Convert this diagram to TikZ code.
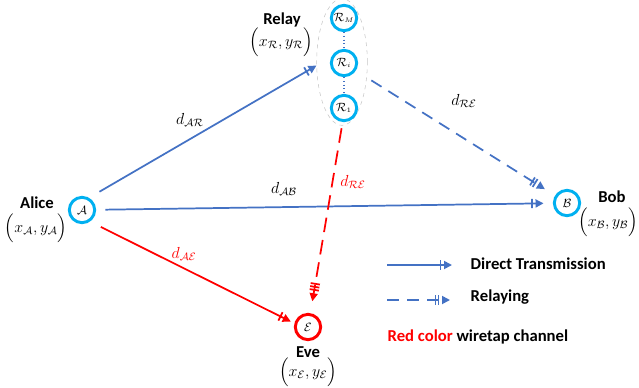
\documentclass[tikz,border=0pt]{standalone}
\usepackage{amsmath}
\usepackage[no-math]{fontspec}
\setmainfont{Carlito}
\usepackage{tikz}
\usetikzlibrary{arrows.meta,positioning,shapes.geometric}
\definecolor{linkblue}{HTML}{4472C4}
\definecolor{nodecyan}{HTML}{00B0F0}
\definecolor{tapred}{HTML}{FF0000}

\begin{document}
\begin{tikzpicture}[x=0.75pt, y=-0.75pt, font=\fontsize{12.5}{14}\selectfont\bfseries,
		user/.style={circle, draw=nodecyan, line width=2.2pt, minimum size=19pt, inner sep=0pt, font=\small},
		place/.style={font=\large\normalfont},
		direct/.style={linkblue, line width=1.3pt, -{Bar[width=7pt,sep=2pt]Triangle[width=6pt,length=6pt]}},
		relaying/.style={linkblue, line width=1.3pt, dash pattern=on 9pt off 6pt, -{Bar[width=7pt,sep=1pt]Bar[width=7pt,sep=2pt]Triangle[width=6pt,length=6pt]}},
		wiretap/.style={tapred, line width=1.3pt, -{Bar[width=7pt,sep=2pt]Triangle[width=6pt,length=6pt]}},
		dlabel/.style={font=\large\normalfont}]
		\useasboundingbox (0,0) rectangle (639,387);
		
		% Terminals
		\node[user] (A) at (82,210) {$\mathcal{A}$};
		\node[user] (B) at (567,203) {$\mathcal{B}$};
		\node[user, draw=tapred] (E) at (308,327) {$\mathcal{E}$};
		\node (alice) at (37,203) {Alice};
		\node[place] (alicepos) at (36,228) {$\Bigl(x_{\mathcal{A}},y_{\mathcal{A}}\Bigr)$};
		\node (bob) at (612,197) {Bob};
		\node[place] (bobpos) at (608,222) {$\Bigl(x_{\mathcal{B}},y_{\mathcal{B}}\Bigr)$};
		\node (eve) at (308,352) {Eve};
		\node[place] (evepos) at (308,372) {$\Bigl(x_{\mathcal{E}},y_{\mathcal{E}}\Bigr)$};
		
		% Relay cluster
		\node[ellipse, draw=gray!45, dashed, thin, minimum width=38pt, minimum height=95pt] (relay) at (342,62) {};
		\node[user] (RM) at (344,18) {$\mathcal{R}_{\scriptscriptstyle M}$};
		\node[user] (Ri) at (344,63) {$\mathcal{R}_{\scriptscriptstyle i}$};
		\node[user] (R1) at (344,108) {$\mathcal{R}_{\scriptscriptstyle 1}$};
		\draw[linkblue, dotted, thick] (RM) -- (Ri);
		\draw[linkblue, dotted, thick] (Ri) -- (R1);
		\node (relaylbl) at (282,20) {Relay};
		\node[place] (relaypos) at (281,42) {$\Bigl(x_{\mathcal{R}},y_{\mathcal{R}}\Bigr)$};
		
		% Links
		\draw[direct, shorten <=9pt] (A.60) -- (relay.188);
		\draw[direct, shorten <=7pt, shorten >=7pt] (A) -- (B);
		\draw[relaying, shorten <=4pt, shorten >=9pt] (relay) -- (B);
		\draw[wiretap, shorten <=9pt, shorten >=3pt] (A.-55) -- (E.165);
		\draw[wiretap, dash pattern=on 11pt off 6pt, shorten <=2pt, shorten >=9pt,
			-{Bar[width=7pt,sep=1pt]Bar[width=7pt,sep=1pt]Bar[width=7pt,sep=2pt]Triangle[width=6pt,length=6pt]}] (relay.south) -- (E);
		
		\node[dlabel] (dAR) at (190,120) {$d_{\mathcal{AR}}$};
		\node[dlabel] (dAB) at (284,189) {$d_{\mathcal{AB}}$};
		\node[dlabel] (dRB) at (464,101) {$d_{\mathcal{RE}}$};
		\node[dlabel, tapred] (dRE) at (353,182) {$d_{\mathcal{RE}}$};
		\node[dlabel, tapred] (dAE) at (184,254) {$d_{\mathcal{AE}}$};
		
		% Legend
		\coordinate (k1) at (387,265);
		\coordinate (k2) at (452,265);
		\coordinate (k3) at (387,300);
		\coordinate (k4) at (450,300);
		\draw[direct] (k1) -- (k2);
		\draw[relaying] (k3) -- (k4);
		\node[anchor=west] (key1) at (466,264) {Direct Transmission};
		\node[anchor=west] (key2) at (466,297) {Relaying};
		\node[anchor=west] (key3) at (383,337) {\textcolor{tapred}{Red color} wiretap channel};
	\end{tikzpicture}
\end{document}
